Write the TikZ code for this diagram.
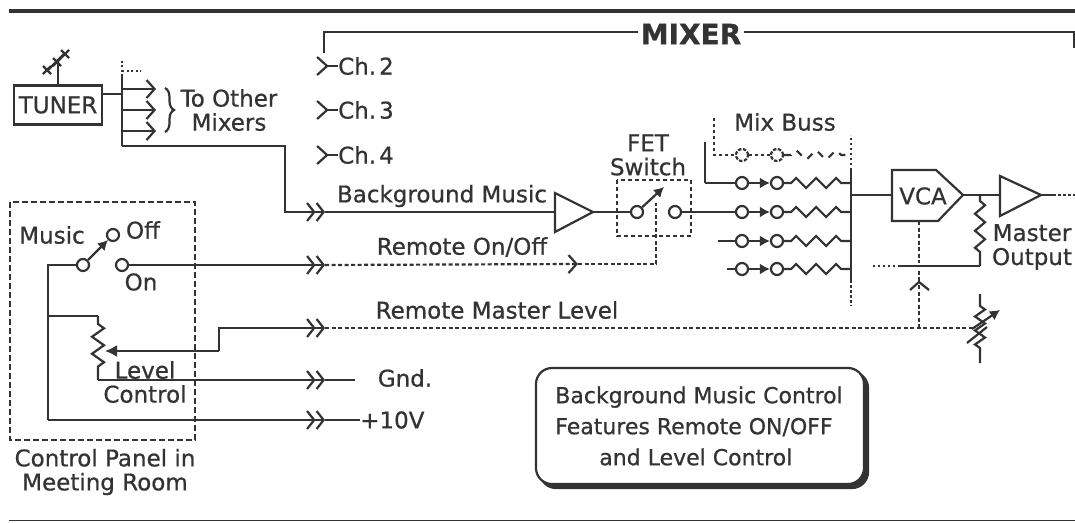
\documentclass[tikz,border=0pt]{standalone}
\usepackage{fontspec}
\setmainfont[RawFeature={embolden=0.7}]{DejaVu Sans}
\usetikzlibrary{arrows.meta,decorations.pathmorphing,decorations.pathreplacing,shadows}
\definecolor{ink}{HTML}{333333}
\tikzset{
 wire/.style={ink,line width=2.2pt},
 dots/.style={wire,dash pattern=on 4pt off 2.5pt},
 panelline/.style={wire,dash pattern=on 6pt off 3pt},
 lbl/.style={text=ink,inner sep=0pt,font=\fontsize{23}{24}\selectfont},
 contact/.style={circle,wire,draw,fill=white,inner sep=0pt,minimum size=12pt},
 jack/.style={wire,-{Straight Barb[length=7pt,width=18pt,line width=2.2pt] Straight Barb[length=7pt,width=18pt,line width=2.2pt]}},
 barb/.style={wire,-{Straight Barb[length=8pt,width=18pt,line width=2.2pt]}},
 socket/.style={wire,{Straight Barb[reversed,length=10pt,width=18pt,line width=2.2pt]}-},
 solidtip/.style={wire,-{Latex[length=10pt,width=11pt]}},
 resistor/.style={wire,decorate,decoration={zigzag,segment length=20pt,amplitude=5pt,pre length=7pt,post length=4pt}},
 amp/.style={wire,fill=white,line join=miter},
}
\begin{document}
\begin{tikzpicture}[x=1pt,y=-1pt]
\useasboundingbox (0,0) rectangle (1075,522);
% frame
\draw[ink,line width=4.5pt] (9,11) -- (1075,11);
\draw[ink,line width=1.5pt] (9,520.5) -- (1075,520.5);
\node[lbl,font=\fontsize{28}{30}\selectfont\bfseries] (mixer) at (691,34) {MIXER};
\coordinate (mixl) at (324,32); \coordinate (mixr) at (1074,32);
\draw[wire] (mixer.west) ++(-3,-2) -- (mixl) -- (324,53);
\draw[wire] (mixer.east) ++(3,-2) -- (mixr) -- (1074,48);
% tuner
\node[wire,draw,lbl,minimum width=88pt,minimum height=39pt] (tuner) at (58,105) {TUNER};
\coordinate (ant) at (58,64);
\draw[wire] (tuner.north) -- (ant); \draw[wire] (47,71) -- (65,53);
\foreach \ax/\ay in {47/70,57/62,65/54}{\draw[wire] (\ax-4,\ay-4) -- (\ax+4,\ay+4) (\ax-4,\ay+4) -- (\ax+4,\ay-4);}
\coordinate (splitt) at (122,76); \coordinate (splitb) at (122,146); \coordinate (splito) at (122,94);
\draw[wire] (tuner.east |- splito) -- (splito); \draw[wire] (splitt) -- (splitb);
\draw[dots,dash pattern=on 2pt off 2.5pt] (splitt) -- (122,59) (122,71) -- (141,71);
\foreach \y in {89,110,131}{\coordinate (tap\y) at (156,\y); \draw[barb] (122,\y) -- (tap\y);}
\coordinate (bracet) at (165,88); \coordinate (braceb) at (165,132);
\draw[wire,decorate,decoration={brace,amplitude=9pt}] (bracet) -- (braceb);
\node[lbl,align=center] (others) at (229,110) {To Other\\Mixers};
% channels
\foreach \y/\n in {66/2,110/3,155/4}{\node[lbl,anchor=west] (ch\n) at (338,\y) {Ch.\hspace{3pt}\n}; \draw[socket] (316,\y) -- (ch\n.west);}
% background music
\coordinate (bgbend) at (285,146); \coordinate (bgdown) at (285,212); \coordinate (bgjack) at (325,212);
\draw[jack] (splitb) -- (bgbend) -- (bgdown) -- (bgjack);
\node[lbl] (bglabel) at (442,196) {Background Music};
\draw[amp] (555,193) -- (593,212) -- (555,232) -- cycle;
\coordinate (ampin) at (555,212); \coordinate (ampout) at (593,212);
\draw[wire] (bgjack) -- (ampin);
% FET switch
\node[lbl,align=center] (fetlabel) at (648,155) {FET\\Switch};
\draw[panelline,dash pattern=on 4pt off 3pt] (617,180) rectangle (691,236);
\node[contact] (fetin) at (637,212) {}; \node[contact] (fetout) at (675,212) {};
\coordinate (fetarm) at (664,187);
\draw[wire] (ampout) -- (fetin);
\draw[solidtip] (fetin) -- (fetarm);
% mix buss rows
\node[lbl] (busslabel) at (785,122) {Mix Buss};
\coordinate (busst) at (851,170); \coordinate (bussb) at (851,280);
\draw[wire] (busst) -- (bussb);
\draw[dots,dash pattern=on 2.5pt off 2.5pt] (busst) -- (851,135) (bussb) -- (851,306);
\foreach \y/\n/\xs in {183/b/705,212/c/681,241/d/718,269/e/727}{
 \node[contact] (in\n) at (742,\y) {}; \node[contact] (post\n) at (777,\y) {}; \coordinate (tie\n) at (851,\y);
 \draw[solidtip] (in\n) -- (post\n);
 \draw[resistor] (post\n) -- (tie\n);
 \draw[wire] (\xs,\y) -- (in\n);
}
\draw[wire] (705,142) -- (705,183);
\node[contact,dash pattern=on 3.5pt off 1.5pt] (ina) at (742,155) {}; \node[contact,dash pattern=on 3.5pt off 1.5pt] (posta) at (777,155) {};
\draw[dots,dash pattern=on 3pt off 3pt] (714,118) -- (714,155) -- (ina) (ina) -- (posta);
\draw[dots,dash pattern=on 7pt off 8pt,decorate,decoration={zigzag,segment length=20pt,amplitude=5pt,pre length=7pt}] (posta) -- (851,155);
% VCA and output
\node[lbl] (vca) at (923,196) {VCA};
\draw[wire,line join=miter] (892,170) -- (936,170) -- (963,195) -- (938,221) -- (892,221) -- cycle;
\coordinate (vcain) at (892,195); \coordinate (vcaout) at (963,195); \coordinate (vcactl) at (919,221);
\draw[wire] (851,195) -- (vcain);
\coordinate (masterin) at (1000,195); \coordinate (masterout) at (1041,195); \coordinate (feedtop) at (980,195);
\draw[wire] (vcaout) -- (masterin);
\draw[amp] (1000,176) -- (1041,195) -- (1000,216) -- cycle;
\draw[wire] (masterout) -- (1053,195);
\draw[dots,dash pattern=on 2.5pt off 2.5pt] (1053,195) -- (1075,195);
\node[lbl,align=center] (master) at (1032,247) {Master\\Output};
\coordinate (feedbot) at (980,266); \coordinate (feedend) at (900,266);
\draw[wire,decorate,decoration={zigzag,segment length=17pt,amplitude=5pt,pre length=6pt,post length=14pt}] (feedtop) -- (feedbot);
\draw[wire] (feedbot) -- (feedend);
\draw[dots,dash pattern=on 2.5pt off 2.5pt] (feedend) -- (873,266);
\draw[dots] (vcactl) -- (919,263);
% panel
\draw[panelline] (10,202) rectangle (195,440);
\node[lbl] (music) at (52,235) {Music};
\node[lbl] (offlabel) at (143,230) {Off};
\node[lbl] (onlabel) at (141,282) {On};
\node[contact] (swin) at (83,265) {}; \node[contact] (swoff) at (113,235) {}; \node[contact] (swon) at (122,265) {};
\draw[solidtip] (swin) -- (swoff);
\coordinate (railt) at (48,265); \coordinate (railm) at (48,316); \coordinate (railb) at (48,420);
\draw[wire] (swin) -- (railt) -- (railb);
\coordinate (ronjack) at (325,265); \coordinate (rontop) at (656,264);
\draw[jack] (swon) -- (ronjack);
\draw[dots,-{Straight Barb[length=8pt,width=18pt,line width=2.2pt]}] (ronjack) -- (578,264);
\draw[dots] (578,264) -- (rontop) -- (656,203);
\node[lbl] (ronlabel) at (462,247) {Remote On/Off};
% level control
\coordinate (pott) at (98,316); \coordinate (potb) at (98,380);
\draw[wire] (railm) -- (pott);
\draw[wire,decorate,decoration={zigzag,segment length=17pt,amplitude=6pt,pre length=8pt,post length=12pt}] (pott) -- (potb);
\coordinate (wiper) at (105,351); \coordinate (wipbend) at (219,351); \coordinate (rmljack) at (325,328);
\draw[wire,{Latex[length=12pt,width=12pt]}-] (wiper) -- (wipbend);
\draw[jack] (wipbend) -- (219,328) -- (rmljack);
\coordinate (vrleft) at (975,328); \coordinate (vcaup) at (919,328);
\draw[dots] (rmljack) -- (vrleft);
\draw[dots] (vcaup) -- (919,284);
\draw[wire] (910,290) -- (919,282) -- (929,290);
\draw[dots] (919,281) -- (919,271);
\node[lbl] (rmllabel) at (497,310) {Remote Master Level};
\node[lbl,align=center] (levellabel) at (145,382) {Level\\Control};
\coordinate (gndjack) at (325,380); \coordinate (gndend) at (355,380);
\draw[jack] (potb) -- (gndjack); \draw[wire] (gndjack) -- (gndend);
\node[lbl] (gnd) at (405,378) {Gnd.};
\coordinate (tenjack) at (325,420);
\node[lbl,anchor=west] (ten) at (360,420) {+10V};
\draw[jack] (railb) -- (tenjack); \draw[wire] (tenjack) -- (ten.west);
\node[lbl,align=center] (panellabel) at (105,472) {Control Panel in\\Meeting Room};
% remote master pot
\coordinate (vrt) at (980,294); \coordinate (vrb) at (980,363);
\draw[wire,decorate,decoration={zigzag,segment length=14pt,amplitude=5pt,pre length=12pt,post length=14pt}] (vrt) -- (vrb);
\draw[solidtip] (972,329) -- (1000,310);
\draw[wire] (967,343) -- (987,327);
% note
\node[draw,wire,fill=white,rounded corners=16pt,minimum width=328pt,minimum height=116pt,copy shadow={shadow xshift=4pt,shadow yshift=-4pt,fill=ink,draw=ink}] (note) at (700,426) {};
\node[lbl,font=\fontsize{22}{31}\selectfont,align=left] (notetext) at (699,426) {Background Music Control\\Features Remote ON/OFF\\\hspace*{44pt}and Level Control};
\end{tikzpicture}
\end{document}
